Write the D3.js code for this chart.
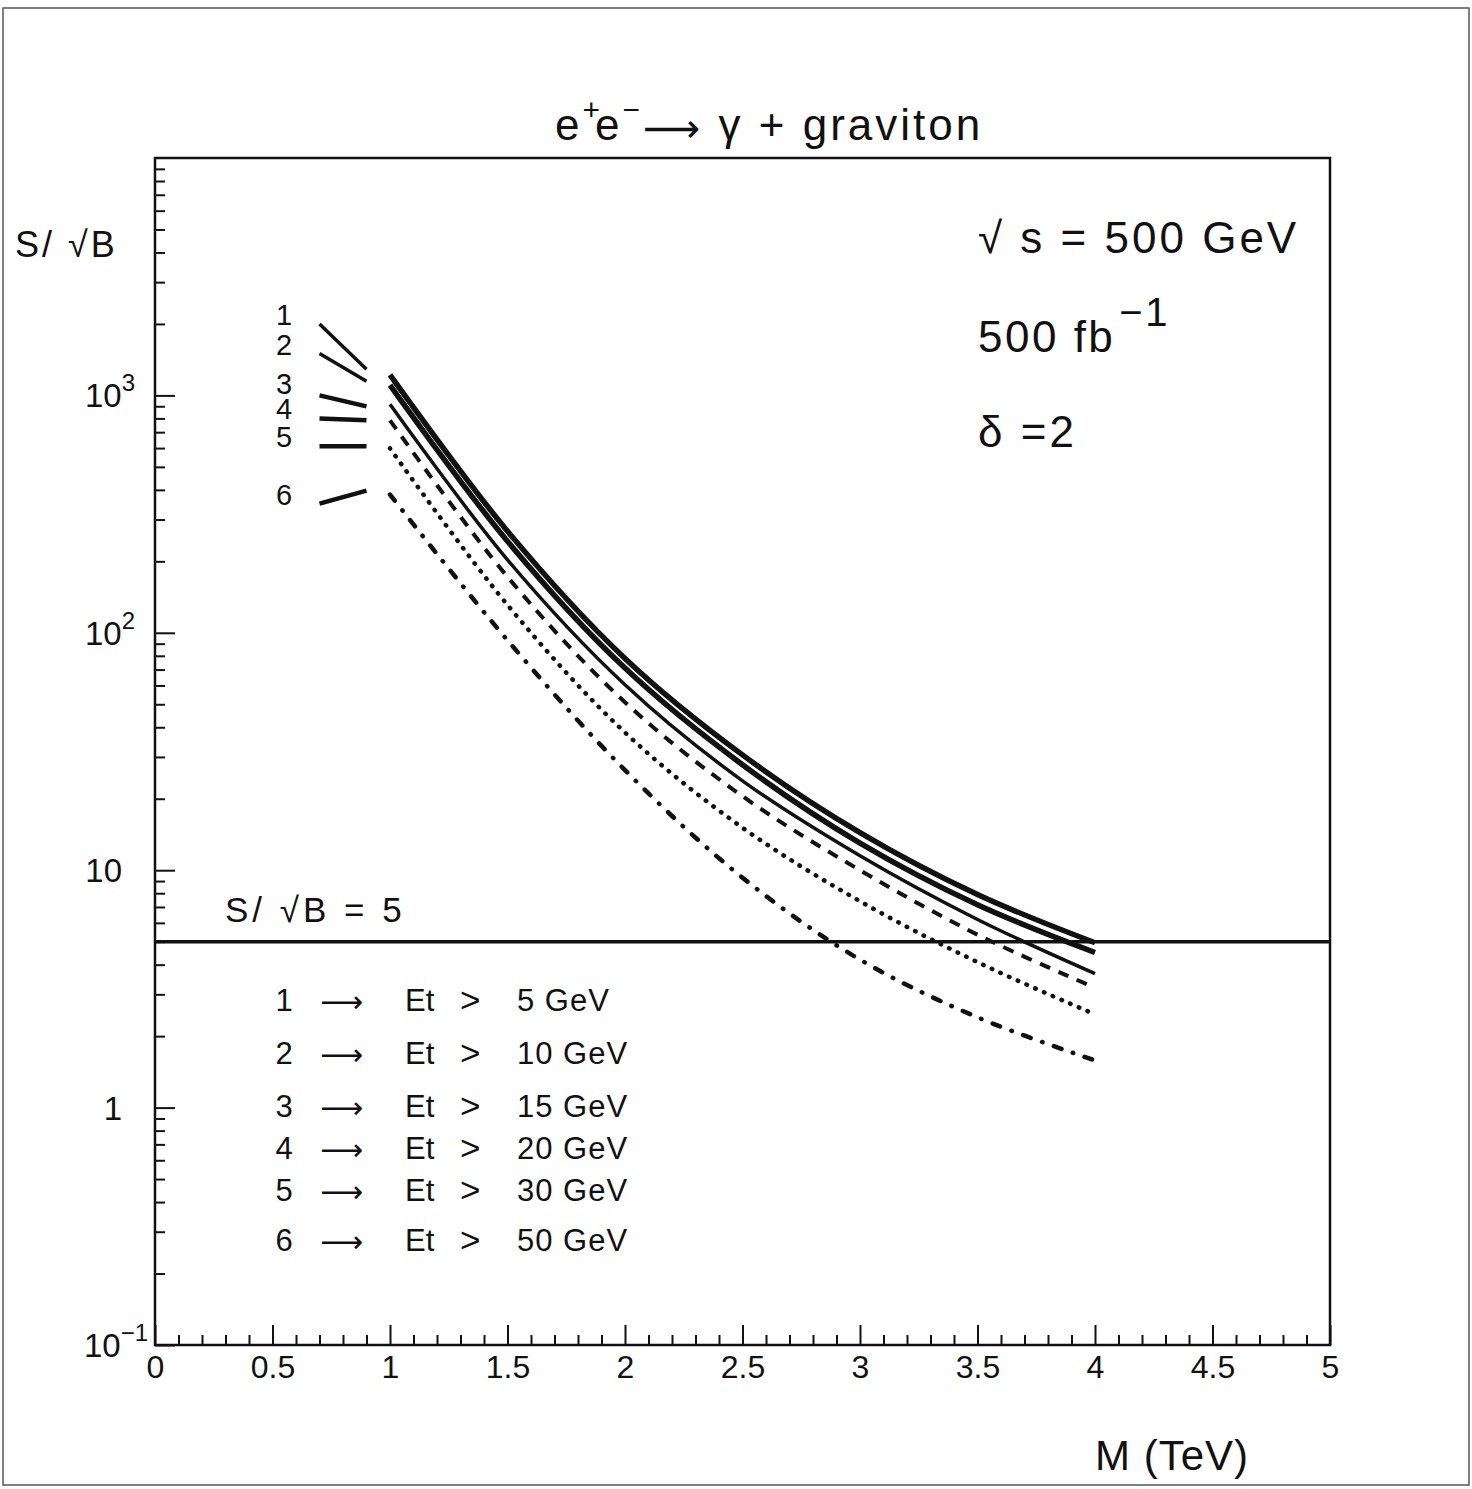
<!DOCTYPE html>
<html>
<head>
<meta charset="utf-8">
<script src="https://cdn.jsdelivr.net/npm/d3@7"></script>
<style>
  body { margin: 0; background: #fff; }
  text { font-family: "Liberation Sans", Arial, sans-serif; fill: #111; }
  .arrow { font-family: "DejaVu Sans", sans-serif; }
</style>
</head>
<body>
<div id="chart"></div>
<script>
const mass = [1, 1.5, 2, 2.5, 3, 3.5, 4];
// S/sqrt(B) for each Et cut
const sigEt5  = [1220, 268, 78, 30.6, 14.4, 7.9, 4.95];
const sigEt10 = [1105, 243, 71, 27.8, 13.0, 7.15, 4.5];
const sigEt15 = [917, 203, 60.4, 23.8, 11.5, 6.2, 3.67];
const sigEt20 = [785, 172, 51, 20.5, 10, 5.35, 3.2];
const sigEt30 = [598, 131, 38, 15.1, 7.4, 4.1, 2.47];
const sigEt50 = [382, 93, 26.4, 9.3, 4.2, 2.4, 1.58];
const etCuts = [5, 10, 15, 20, 30, 50];

// little key segments drawn left of the curves
const keyX = [0.7, 0.9];
const keyY = [[2000, 1290], [1500, 1146], [1000, 899], [800, 785], [610, 610], [350, 397]];

const xTicks = [0, 0.5, 1, 1.5, 2, 2.5, 3, 3.5, 4, 4.5, 5];
const yDecades = [0.1, 1, 10, 100, 1000];
const discovery = 5;

const width = 1472, height = 1489;
const svg = d3.select('#chart').append('svg').attr('width', width).attr('height', height);

const x = d3.scaleLinear().domain([0, 5]).range([155, 1330]);
const y = d3.scaleLog().domain([0.1, 1e4]).range([1345, 158]);

// outer page frame
svg.append('rect').attr('x', 3).attr('y', 8).attr('width', 1466).attr('height', 1477)
    .attr('fill', 'none').attr('stroke', '#555').attr('stroke-width', 1.5);

// minor/major ticks
const xMinor = d3.range(0, 50).map(d => d / 10).filter(d => Math.round(d * 10) % 5 !== 0);
const yMinor = [];
yDecades.forEach(dec => { for (let k = 2; k <= 9; k++) yMinor.push(dec * k); });

svg.append('g').attr('transform', 'translate(0,1345)')
    .call(d3.axisBottom(x).tickValues(xTicks).tickSize(-20).tickPadding(10).tickFormat(d3.format('')))
    .call(g => g.select('.domain').remove())
    .call(g => g.selectAll('line').attr('stroke', '#111').attr('stroke-width', 2))
    .call(g => g.selectAll('text').style('font-size', '32px').attr('fill', '#111')
        .style('font-family', '"Liberation Sans", Arial, sans-serif'));

svg.append('g').attr('transform', 'translate(0,1345)')
    .call(d3.axisBottom(x).tickValues(xMinor).tickSize(-10).tickFormat(''))
    .call(g => g.select('.domain').remove())
    .call(g => g.selectAll('line').attr('stroke', '#111').attr('stroke-width', 2));

svg.append('g').attr('transform', 'translate(155,0)')
    .call(d3.axisLeft(y).tickValues(yDecades).tickSize(-20).tickFormat(''))
    .call(g => g.select('.domain').remove())
    .call(g => g.selectAll('line').attr('stroke', '#111').attr('stroke-width', 2));

svg.append('g').attr('transform', 'translate(155,0)')
    .call(d3.axisLeft(y).tickValues(yMinor).tickSize(-10).tickFormat(''))
    .call(g => g.select('.domain').remove())
    .call(g => g.selectAll('line').attr('stroke', '#111').attr('stroke-width', 2));

// y tick labels with superscripts
const yLab = [['10', '\u22121'], ['1', ''], ['10', ''], ['10', '2'], ['10', '3']];
yDecades.forEach((v, i) => {
    const t = svg.append('text').attr('x', 122).attr('y', y(v) + 12)
        .attr('text-anchor', 'end').style('font-size', '33px');
    t.append('tspan').text(yLab[i][0]);
    if (yLab[i][1]) {
        t.attr('x', yLab[i][1].length > 1 ? 148 : 135);
        t.append('tspan').attr('dy', -16).style('font-size', '24px').text(yLab[i][1]);
    }
});

// plot frame
svg.append('rect').attr('x', x(0)).attr('y', y(1e4))
    .attr('width', x(5) - x(0)).attr('height', y(0.1) - y(1e4))
    .attr('fill', 'none').attr('stroke', '#111').attr('stroke-width', 2.5);

// curves
const series = [sigEt5, sigEt10, sigEt15, sigEt20, sigEt30, sigEt50];
const styles = [
    { w: 5.5, dash: null, cap: 'butt' },
    { w: 5.5, dash: null, cap: 'butt' },
    { w: 3.5, dash: null, cap: 'butt' },
    { w: 4, dash: '11,9', cap: 'butt' },
    { w: 4.5, dash: '0.5,9', cap: 'round' },
    { w: 4.5, dash: '8,12,0.5,12', cap: 'round' }
];
const line = d3.line().x(d => x(d[0])).y(d => y(d[1])).curve(d3.curveCatmullRom);

series.forEach((s, i) => {
    svg.append('path').datum(mass.map((m, j) => [m, s[j]]))
        .attr('fill', 'none').attr('stroke', '#111')
        .attr('stroke-width', styles[i].w)
        .attr('stroke-dasharray', styles[i].dash)
        .attr('stroke-linecap', styles[i].cap)
        .attr('d', line);
});

// key segments + numbers
const numColor = ['#aaa', '#ddd', '#111', '#111', '#111', '#111'];
keyY.forEach((k, i) => {
    svg.append('line')
        .attr('x1', x(keyX[0])).attr('y1', y(k[0]))
        .attr('x2', x(keyX[1])).attr('y2', y(k[1]))
        .attr('stroke', '#111').attr('stroke-width', i < 2 ? 3.5 : 4.5);
    svg.append('text').attr('x', 284).attr('y', y(k[0]) + (i === 2 ? -1 : 1))
        .attr('text-anchor', 'middle').style('font-size', '29px')
        .attr('fill', numColor[i]).text(i + 1);
});

// S/sqrt(B) = 5 line
svg.append('line').attr('x1', x(0)).attr('x2', x(5))
    .attr('y1', y(discovery)).attr('y2', y(discovery))
    .attr('stroke', '#111').attr('stroke-width', 3.5);
svg.append('text').attr('x', 225).attr('y', 922).style('font-size', '35px')
    .style('letter-spacing', '4px').text('S/ \u221AB = 5');

// legend rows
const rowY = [1011, 1064, 1117, 1159, 1201, 1251];
const rowColor = ['#999', '#c8c8c8', '#111', '#111', '#111', '#111'];
etCuts.forEach((c, i) => {
    const g = svg.append('g').style('font-size', '31px');
    g.append('text').attr('x', 284).attr('y', rowY[i]).attr('text-anchor', 'middle')
        .attr('fill', rowColor[i]).text(i + 1);
    g.append('text').attr('class', 'arrow').attr('x', 320).attr('y', rowY[i] + 1)
        .style('font-size', '30px').attr('fill', rowColor[i]).text('\u27F6');
    g.append('text').attr('x', 405).attr('y', rowY[i]).attr('fill', rowColor[i]).text('Et');
    g.append('text').attr('x', 460).attr('y', rowY[i] + 1).style('font-size', '35px')
        .attr('fill', rowColor[i]).text('>');
    g.append('text').attr('x', 517).attr('y', rowY[i]).attr('fill', rowColor[i])
        .style('letter-spacing', '1px').text(c + ' GeV');
});

// title
const title = svg.append('text').attr('x', 555).attr('y', 140)
    .style('font-size', '44px').style('letter-spacing', '3px');
title.append('tspan').text('e');
title.append('tspan').attr('dy', -20).style('font-size', '30px').text('+');
title.append('tspan').attr('dx', -8).attr('dy', 20).text('e');
title.append('tspan').attr('dy', -20).style('font-size', '30px').text('\u2212');
title.append('tspan').attr('class', 'arrow').attr('dy', 22).style('font-size', '40px').text('\u27F6');
title.append('tspan').attr('dy', -2).text(' \u03B3 + graviton');

// y axis title
svg.append('text').attr('x', 15).attr('y', 257).style('font-size', '36px')
    .style('letter-spacing', '3px').text('S/ \u221AB');

// annotations
svg.append('text').attr('x', 978).attr('y', 253).style('font-size', '44px')
    .style('letter-spacing', '3px').text('\u221A  s = 500 GeV');
const lum = svg.append('text').attr('x', 978).attr('y', 352).style('font-size', '44px')
    .style('letter-spacing', '2.5px');
lum.append('tspan').text('500 fb');
lum.append('tspan').attr('dx', 4).attr('dy', -26).style('font-size', '40px').text('\u22121');
svg.append('text').attr('x', 978).attr('y', 447).style('font-size', '44px')
    .style('letter-spacing', '3px').text('\u03B4 =2');

// x axis title
svg.append('text').attr('x', 1095).attr('y', 1470).style('font-size', '42px')
    .style('letter-spacing', '1px').text('M (TeV)');
</script>
</body>
</html>
